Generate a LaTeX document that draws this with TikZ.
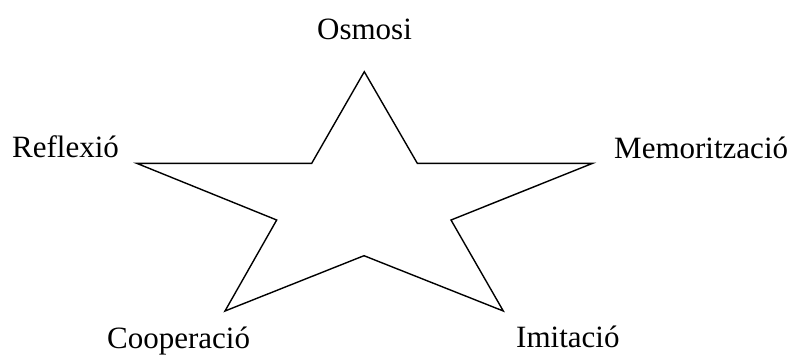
\documentclass[tikz,border=0pt]{standalone}
\usepackage{fontspec}
\setmainfont{Liberation Serif}
\begin{document}
\begin{tikzpicture}[x=1pt,y=-1pt,
  outline/.style={draw=black,line width=1.4pt,line join=miter},
  lbl/.style={inner sep=0pt,font=\fontsize{31}{37}\selectfont}]
\useasboundingbox (0,0) rectangle (792,354);
% outer points and inner notches of the star
\coordinate (pTop) at (364.3,71.7);
\coordinate (nTR) at (417.3,163.3);
\coordinate (pRight) at (592.7,163.3);
\coordinate (nR) at (451,220);
\coordinate (pBR) at (503.3,311);
\coordinate (nB) at (364,255.7);
\coordinate (pBL) at (225,311);
\coordinate (nL) at (276.7,220);
\coordinate (pLeft) at (136.7,163.3);
\coordinate (nTL) at (311.7,163.3);
\draw[outline] (pTop) -- (nTR) -- (pRight) -- (nR) -- (pBR) -- (nB)
  -- (pBL) -- (nL) -- (pLeft) -- (nTL) -- cycle;
% labels at the five points
\node[lbl,anchor=base] (osmosi) at (364.5,39) {Osmosi};
\node[lbl,anchor=base west] (reflexio) at (12,157) {Reflexió};
\node[lbl,anchor=base west] (memoritzacio) at (614,158) {Memorització};
\node[lbl,anchor=base west] (cooperacio) at (107,348) {Cooperació};
\node[lbl,anchor=base west] (imitacio) at (516,347) {Imitació};
\end{tikzpicture}
\end{document}
